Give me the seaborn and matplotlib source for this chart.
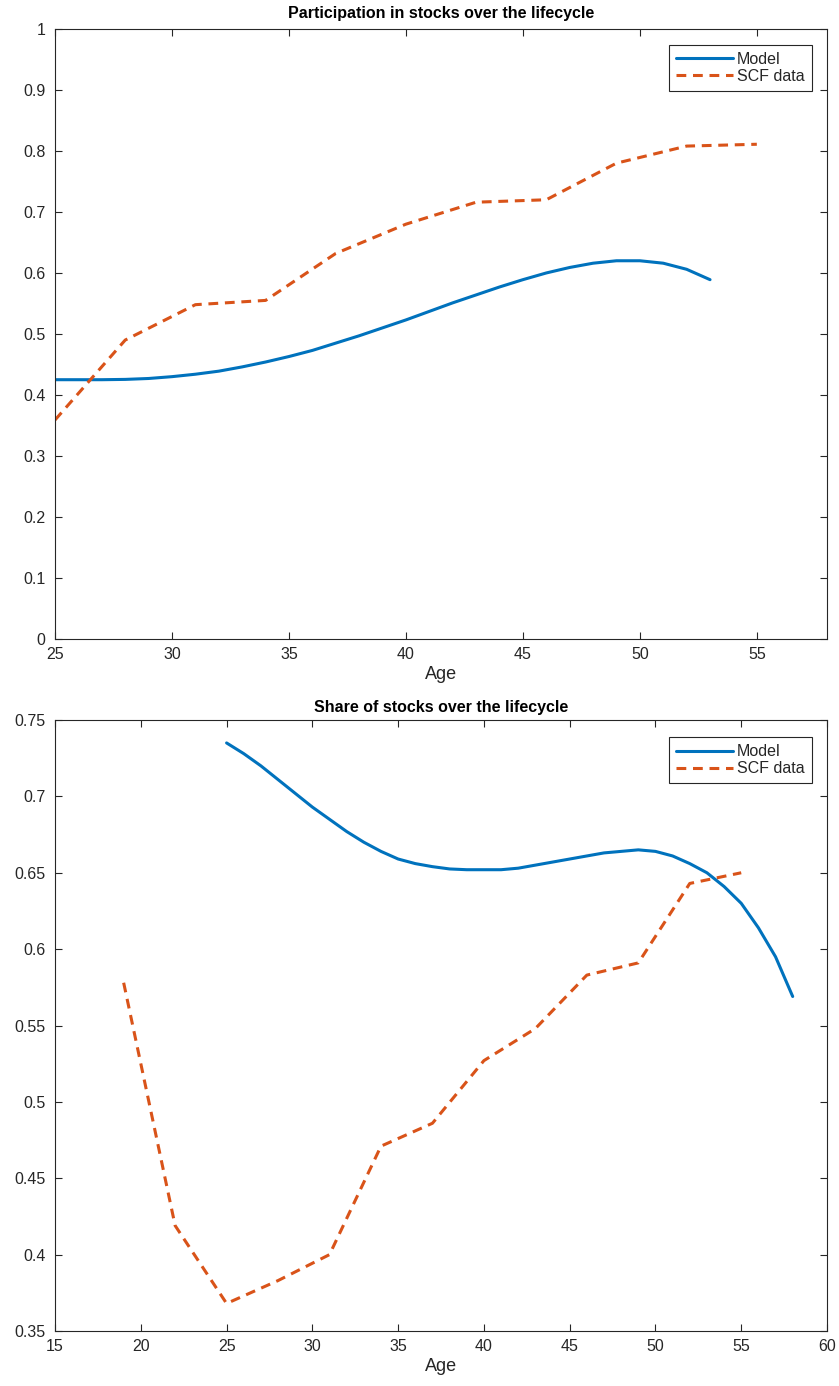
import numpy as np
import pandas as pd
import matplotlib
matplotlib.use("Agg")
import matplotlib.pyplot as plt
import seaborn as sns
from matplotlib.ticker import FuncFormatter

# participation panel
part_model_age = list(range(25, 54))
part_model = [0.425, 0.425, 0.425, 0.4255, 0.427, 0.430, 0.434, 0.439, 0.446, 0.454,
              0.463, 0.473, 0.485, 0.497, 0.510, 0.523, 0.537, 0.551, 0.564, 0.577,
              0.589, 0.600, 0.609, 0.616, 0.620, 0.620, 0.616, 0.606, 0.589]
part_scf_age = [25, 28, 31, 34, 37, 40, 43, 46, 49, 52, 55]
part_scf = [0.359, 0.490, 0.548, 0.555, 0.632, 0.680, 0.716, 0.720, 0.780, 0.808, 0.811]

# share panel
share_model_age = list(range(25, 59))
share_model = [0.735, 0.728, 0.720, 0.711, 0.702, 0.693, 0.685, 0.677, 0.670, 0.664,
               0.659, 0.656, 0.654, 0.6525, 0.652, 0.652, 0.652, 0.653, 0.655, 0.657,
               0.659, 0.661, 0.663, 0.664, 0.665, 0.664, 0.661, 0.656, 0.650, 0.641,
               0.630, 0.614, 0.595, 0.569]
share_scf_age = [19, 22, 25, 28, 31, 34, 37, 40, 43, 46, 49, 52, 55]
share_scf = [0.578, 0.419, 0.368, 0.383, 0.400, 0.471, 0.486, 0.527, 0.548, 0.583, 0.591, 0.643, 0.650]

titles = ["Participation in stocks over the lifecycle", "Share of stocks over the lifecycle"]

sns.set_style("ticks")
plt.rcParams['font.family'] = ['Liberation Sans', 'DejaVu Sans']

BLUE = "#0072BD"
ORANGE = "#D95319"
AX_COL = "#262626"

fig = plt.figure(figsize=(8.39, 13.86), dpi=100)
ax1 = fig.add_axes([0.0656, 0.5390, 0.9201, 0.4401])
ax2 = fig.add_axes([0.0656, 0.0397, 0.9201, 0.4408])

panels = [
    (ax1, part_model_age, part_model, part_scf_age, part_scf, (25, 58), (0, 1),
     np.arange(25, 56, 5), np.round(np.arange(0, 1.01, 0.1), 2), (0.9806, 0.974)),
    (ax2, share_model_age, share_model, share_scf_age, share_scf, (15, 60), (0.35, 0.75),
     np.arange(15, 61, 5), np.round(np.arange(0.35, 0.751, 0.05), 2), (0.9806, 0.972)),
]

for i, (ax, ma, mv, sa, sv, xl, yl, xt, yt, anchor) in enumerate(panels):
    sns.lineplot(x=ma, y=mv, ax=ax, color=BLUE, linewidth=2.2, label="Model")
    sns.lineplot(x=sa, y=sv, ax=ax, color=ORANGE, linewidth=2.2,
                 linestyle=(0, (3.2, 2.2)), label="SCF data")
    ax.set_xlim(*xl)
    ax.set_ylim(*yl)
    ax.set_xticks(xt)
    ax.set_yticks(yt)
    ax.yaxis.set_major_formatter(FuncFormatter(lambda v, p: "%g" % round(v, 2)))
    ax.tick_params(direction="in", top=True, right=True, length=5, width=0.8,
                   colors=AX_COL, labelsize=11.5)
    ax.tick_params(axis="y", pad=7)
    ax.tick_params(axis="x", pad=6)
    for sp in ax.spines.values():
        sp.set_visible(True)
        sp.set_color(AX_COL)
        sp.set_linewidth(0.8)
    ax.set_xlabel("Age", fontsize=13, color=AX_COL, labelpad=3)
    ax.set_ylabel("")
    ax.set_title(titles[i], fontsize=11.5, fontweight="bold", color="black",
                 pad=8 if i == 0 else 6)
    leg = ax.legend(loc="upper right", bbox_to_anchor=anchor, borderaxespad=0,
                    fontsize=11.5, handlelength=3.6, handletextpad=0.25,
                    labelspacing=0.12, borderpad=0.45, fancybox=False,
                    framealpha=1, edgecolor=AX_COL)
    leg.get_frame().set_linewidth(0.8)

fig.savefig("out.png", dpi=100)
